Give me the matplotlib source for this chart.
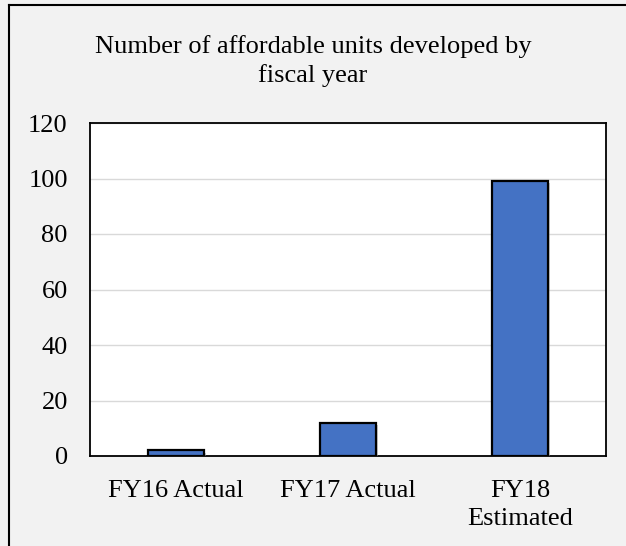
import matplotlib.pyplot as plt
import matplotlib.patheffects as pe
from matplotlib.lines import Line2D

plt.rcParams['font.family'] = ['Liberation Serif', 'DejaVu Serif']

# Data
categories = ["FY16 Actual", "FY17 Actual", "FY18\nEstimated"]
units = [2, 12, 99]
y_ticks = [0, 20, 40, 60, 80, 100, 120]

fig = plt.figure(figsize=(6.26, 5.46), dpi=100, facecolor='#F2F2F2')
W, H = 626, 546
ax = fig.add_axes([90 / W, 1 - 456 / H, (606 - 90) / W, (456 - 123) / H])
ax.set_facecolor('white')

x = range(len(categories))
bars = ax.bar(x, units, width=0.32, color='#4472C4', edgecolor='black',
              linewidth=1.6, zorder=3)
for b in bars:
    b.set_path_effects([pe.SimplePatchShadow(offset=(1.5, -1.5), shadow_rgbFace='#999999', alpha=0.5),
                        pe.Normal()])

ax.set_xlim(-0.5, 2.5)
ax.set_ylim(0, 120)
ax.set_yticks(y_ticks)
ax.set_xticks(list(x))
ax.set_xticklabels(categories, fontsize=19, linespacing=1.4)
ax.tick_params(axis='y', labelsize=19, length=0, pad=16)
ax.tick_params(axis='x', length=0, pad=17)
ax.grid(axis='y', color='#D9D9D9', linewidth=1, zorder=0)
for s in ax.spines.values():
    s.set_linewidth(1.3)
    s.set_color('black')

# Title
fig.text(0.5, 1 - 61 / H, "Number of affordable units developed by\nfiscal year",
         ha='center', va='center', fontsize=19, linespacing=1.35)

# Outer chart frame (left and top edges visible)
fig.add_artist(Line2D([9 / W, 9 / W], [0, 1 - 5 / H], transform=fig.transFigure,
                      color='black', linewidth=1.5))
fig.add_artist(Line2D([9 / W, 1], [1 - 5 / H, 1 - 5 / H], transform=fig.transFigure,
                      color='black', linewidth=1.5))

fig.savefig('out.png', dpi=100, facecolor=fig.get_facecolor())
